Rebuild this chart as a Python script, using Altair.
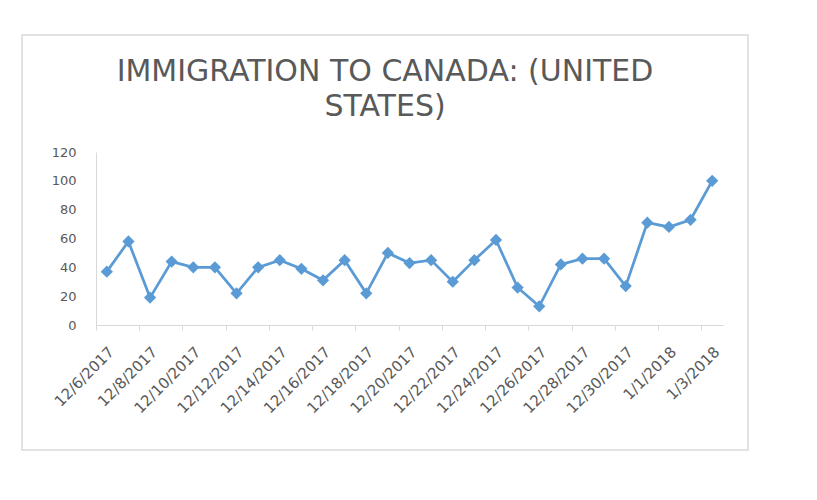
import altair as alt
import pandas as pd

dates = ["12/6/2017", "12/7/2017", "12/8/2017", "12/9/2017", "12/10/2017", "12/11/2017",
         "12/12/2017", "12/13/2017", "12/14/2017", "12/15/2017", "12/16/2017", "12/17/2017",
         "12/18/2017", "12/19/2017", "12/20/2017", "12/21/2017", "12/22/2017", "12/23/2017",
         "12/24/2017", "12/25/2017", "12/26/2017", "12/27/2017", "12/28/2017", "12/29/2017",
         "12/30/2017", "12/31/2017", "1/1/2018", "1/2/2018", "1/3/2018"]
values = [37, 58, 19, 44, 40, 40, 22, 40, 45, 39, 31, 45, 22, 50, 43, 45, 30, 45,
          59, 26, 13, 42, 46, 46, 27, 71, 68, 73, 100]
y_ticks = [0, 20, 40, 60, 80, 100, 120]
title_lines = ["IMMIGRATION TO CANADA: (UNITED", "STATES)"]

df = pd.DataFrame({"idx": list(range(len(dates))), "date": dates, "value": values})

BLUE = "#5B9BD5"
GRAY = "#595959"
LIGHT = "#D9D9D9"

tick_vals = [i - 0.5 for i in range(0, len(dates), 2)]
arr = "[" + ",".join("'" + d + "'" for d in dates) + "]"
label_expr = arr + "[round(datum.value + 0.5)]"

x = alt.X("idx:Q",
          scale=alt.Scale(domain=[-0.5, len(dates) - 0.5], nice=False, zero=False),
          axis=alt.Axis(values=tick_vals, labelExpr=label_expr, title=None,
                        grid=False, domainColor=LIGHT, tickColor=LIGHT, tickSize=5,
                        labelAngle=-45, labelAlign="right", labelBaseline="middle",
                        labelOffset=15, labelPadding=19, labelColor=GRAY,
                        labelFont="DejaVu Sans", labelFontSize=15, labelOverlap=False,
                        labelFlush=False))
y = alt.Y("value:Q",
          scale=alt.Scale(domain=[0, 120], nice=False),
          axis=alt.Axis(values=y_ticks, title=None, grid=False, ticks=False,
                        domainColor=LIGHT, labelPadding=20, labelColor=GRAY,
                        labelFont="DejaVu Sans", labelFontSize=13))

base = alt.Chart(df)
line = base.mark_line(color=BLUE, strokeWidth=2.75).encode(x=x, y=y)
pts = base.mark_point(shape="diamond", filled=True, color=BLUE, size=150, opacity=1).encode(x=x, y=y)

one = pd.DataFrame({"a": [0]})
frame = alt.Chart(one).mark_rect(
    fill=None, stroke=LIGHT, strokeWidth=1.5
).encode(x=alt.value(-74), x2=alt.value(652), y=alt.value(-117), y2=alt.value(298))

title1 = alt.Chart(one).mark_text(
    text=title_lines[0], font="DejaVu Sans", fontSize=30, color=GRAY,
    align="center", baseline="middle"
).encode(x=alt.value(289), y=alt.value(-80))
title2 = alt.Chart(one).mark_text(
    text=title_lines[1], font="DejaVu Sans", fontSize=30, color=GRAY,
    align="center", baseline="middle"
).encode(x=alt.value(289), y=alt.value(-45))

chart = alt.layer(frame, title1, title2, line, pts).properties(
    width=627, height=173,
    padding={"left": 96, "top": 152, "right": 94, "bottom": 175},
    autosize=alt.AutoSizeParams(type="none"),
).configure(background="white").configure_view(stroke=None)

chart.save("out.html", embed_options={"renderer": "svg", "actions": False})
